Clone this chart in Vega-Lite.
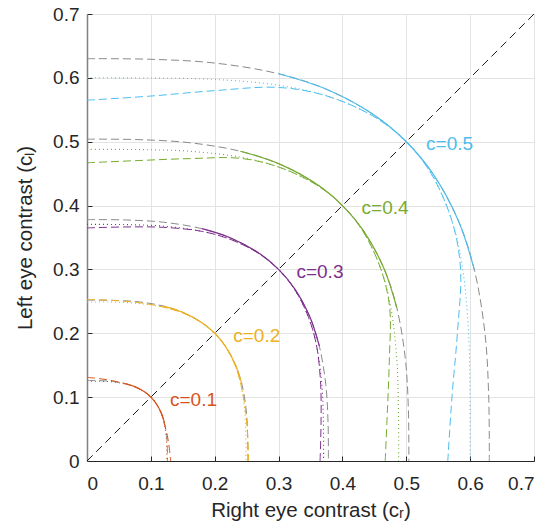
{
  "$schema": "https://vega.github.io/schema/vega-lite/v6.json",
  "width": 447,
  "height": 447,
  "autosize": {"type": "none"},
  "padding": {"left": 87, "top": 14, "right": 24, "bottom": 68},
  "background": "white",
  "config": {
    "view": {"stroke": null},
    "font": "Liberation Sans",
    "axis": {
      "grid": true,
      "gridColor": "#e3e3e3",
      "gridWidth": 1,
      "domainColor": "#262626",
      "tickColor": "#262626",
      "tickSize": -5,
      "labelFontSize": 19,
      "labelColor": "#262626",
      "titleFontSize": 20.5,
      "titleFontWeight": "normal",
      "titleColor": "#262626"
    }
  },
  "datasets": {
    "curves": [
      {"c":"0.5","t":"g","i":0,"x":0,"y":0.63},{"c":"0.5","t":"g","i":1,"x":0.1,"y":0.6291},{"c":"0.5","t":"g","i":2,"x":0.2,"y":0.6232},{"c":"0.5","t":"g","i":3,"x":0.3,"y":0.6064},{"c":"0.5","t":"g","i":4,"x":0.375,"y":0.5821},{"c":"0.5","t":"g","i":5,"x":0.45,"y":0.5416},{"c":"0.5","t":"g","i":6,"x":0.5,"y":0.5},{"c":"0.5","t":"g","i":7,"x":0.5416,"y":0.45},{"c":"0.5","t":"g","i":8,"x":0.5821,"y":0.375},{"c":"0.5","t":"g","i":9,"x":0.6064,"y":0.3},{"c":"0.5","t":"g","i":10,"x":0.6232,"y":0.2},{"c":"0.5","t":"g","i":11,"x":0.6291,"y":0.1},{"c":"0.5","t":"g","i":12,"x":0.63,"y":0},
      {"c":"0.5","t":"o","i":0,"x":0,"y":0.6001},{"c":"0.5","t":"o","i":1,"x":0.1,"y":0.5997},{"c":"0.5","t":"o","i":2,"x":0.2,"y":0.5976},{"c":"0.5","t":"o","i":3,"x":0.3,"y":0.5884},{"c":"0.5","t":"o","i":4,"x":0.375,"y":0.5718},{"c":"0.5","t":"o","i":5,"x":0.45,"y":0.539},{"c":"0.5","t":"o","i":6,"x":0.5,"y":0.5},{"c":"0.5","t":"o","i":7,"x":0.539,"y":0.45},{"c":"0.5","t":"o","i":8,"x":0.5718,"y":0.375},{"c":"0.5","t":"o","i":9,"x":0.5884,"y":0.3},{"c":"0.5","t":"o","i":10,"x":0.5976,"y":0.2},{"c":"0.5","t":"o","i":11,"x":0.5997,"y":0.1},{"c":"0.5","t":"o","i":12,"x":0.6001,"y":0},
      {"c":"0.5","t":"d","i":0,"x":0,"y":0.565},{"c":"0.5","t":"d","i":1,"x":0.1,"y":0.5715},{"c":"0.5","t":"d","i":2,"x":0.2,"y":0.5800},{"c":"0.5","t":"d","i":3,"x":0.3,"y":0.5850},{"c":"0.5","t":"d","i":4,"x":0.375,"y":0.5718},{"c":"0.5","t":"d","i":5,"x":0.45,"y":0.539},{"c":"0.5","t":"d","i":6,"x":0.5,"y":0.5},{"c":"0.5","t":"d","i":7,"x":0.539,"y":0.45},{"c":"0.5","t":"d","i":8,"x":0.5718,"y":0.375},{"c":"0.5","t":"d","i":9,"x":0.5850,"y":0.3},{"c":"0.5","t":"d","i":10,"x":0.5800,"y":0.2},{"c":"0.5","t":"d","i":11,"x":0.5715,"y":0.1},{"c":"0.5","t":"d","i":12,"x":0.565,"y":0},
      {"c":"0.5","t":"s","i":0,"x":0.3,"y":0.6064},{"c":"0.5","t":"s","i":1,"x":0.375,"y":0.5821},{"c":"0.5","t":"s","i":2,"x":0.45,"y":0.5416},{"c":"0.5","t":"s","i":3,"x":0.5,"y":0.5},{"c":"0.5","t":"s","i":4,"x":0.5416,"y":0.45},{"c":"0.5","t":"s","i":5,"x":0.5821,"y":0.375},{"c":"0.5","t":"s","i":6,"x":0.6064,"y":0.3},

      {"c":"0.4","t":"g","i":0,"x":0,"y":0.504},{"c":"0.4","t":"g","i":1,"x":0.08,"y":0.5033},{"c":"0.4","t":"g","i":2,"x":0.16,"y":0.4985},{"c":"0.4","t":"g","i":3,"x":0.24,"y":0.4851},{"c":"0.4","t":"g","i":4,"x":0.3,"y":0.4657},{"c":"0.4","t":"g","i":5,"x":0.36,"y":0.4333},{"c":"0.4","t":"g","i":6,"x":0.4,"y":0.4},{"c":"0.4","t":"g","i":7,"x":0.4333,"y":0.36},{"c":"0.4","t":"g","i":8,"x":0.4657,"y":0.3},{"c":"0.4","t":"g","i":9,"x":0.4851,"y":0.24},{"c":"0.4","t":"g","i":10,"x":0.4985,"y":0.16},{"c":"0.4","t":"g","i":11,"x":0.5033,"y":0.08},{"c":"0.4","t":"g","i":12,"x":0.504,"y":0},
      {"c":"0.4","t":"o","i":0,"x":0,"y":0.488},{"c":"0.4","t":"o","i":1,"x":0.08,"y":0.4877},{"c":"0.4","t":"o","i":2,"x":0.16,"y":0.4851},{"c":"0.4","t":"o","i":3,"x":0.24,"y":0.4758},{"c":"0.4","t":"o","i":4,"x":0.3,"y":0.4604},{"c":"0.4","t":"o","i":5,"x":0.36,"y":0.432},{"c":"0.4","t":"o","i":6,"x":0.4,"y":0.4},{"c":"0.4","t":"o","i":7,"x":0.432,"y":0.36},{"c":"0.4","t":"o","i":8,"x":0.4604,"y":0.3},{"c":"0.4","t":"o","i":9,"x":0.4758,"y":0.24},{"c":"0.4","t":"o","i":10,"x":0.4851,"y":0.16},{"c":"0.4","t":"o","i":11,"x":0.4877,"y":0.08},{"c":"0.4","t":"o","i":12,"x":0.488,"y":0},
      {"c":"0.4","t":"d","i":0,"x":0,"y":0.467},{"c":"0.4","t":"d","i":1,"x":0.08,"y":0.4705},{"c":"0.4","t":"d","i":2,"x":0.16,"y":0.4735},{"c":"0.4","t":"d","i":3,"x":0.24,"y":0.4740},{"c":"0.4","t":"d","i":4,"x":0.3,"y":0.4604},{"c":"0.4","t":"d","i":5,"x":0.36,"y":0.432},{"c":"0.4","t":"d","i":6,"x":0.4,"y":0.4},{"c":"0.4","t":"d","i":7,"x":0.432,"y":0.36},{"c":"0.4","t":"d","i":8,"x":0.4604,"y":0.3},{"c":"0.4","t":"d","i":9,"x":0.4740,"y":0.24},{"c":"0.4","t":"d","i":10,"x":0.4735,"y":0.16},{"c":"0.4","t":"d","i":11,"x":0.4705,"y":0.08},{"c":"0.4","t":"d","i":12,"x":0.467,"y":0},
      {"c":"0.4","t":"s","i":0,"x":0.24,"y":0.4851},{"c":"0.4","t":"s","i":1,"x":0.3,"y":0.4657},{"c":"0.4","t":"s","i":2,"x":0.36,"y":0.4333},{"c":"0.4","t":"s","i":3,"x":0.4,"y":0.4},{"c":"0.4","t":"s","i":4,"x":0.4333,"y":0.36},{"c":"0.4","t":"s","i":5,"x":0.4657,"y":0.3},{"c":"0.4","t":"s","i":6,"x":0.4851,"y":0.24},

      {"c":"0.3","t":"g","i":0,"x":0,"y":0.378},{"c":"0.3","t":"g","i":1,"x":0.06,"y":0.3775},{"c":"0.3","t":"g","i":2,"x":0.12,"y":0.3739},{"c":"0.3","t":"g","i":3,"x":0.18,"y":0.3638},{"c":"0.3","t":"g","i":4,"x":0.225,"y":0.3493},{"c":"0.3","t":"g","i":5,"x":0.27,"y":0.325},{"c":"0.3","t":"g","i":6,"x":0.3,"y":0.3},{"c":"0.3","t":"g","i":7,"x":0.325,"y":0.27},{"c":"0.3","t":"g","i":8,"x":0.3493,"y":0.225},{"c":"0.3","t":"g","i":9,"x":0.3638,"y":0.18},{"c":"0.3","t":"g","i":10,"x":0.3739,"y":0.12},{"c":"0.3","t":"g","i":11,"x":0.3775,"y":0.06},{"c":"0.3","t":"g","i":12,"x":0.378,"y":0},
      {"c":"0.3","t":"o","i":0,"x":0,"y":0.3705},{"c":"0.3","t":"o","i":1,"x":0.06,"y":0.3702},{"c":"0.3","t":"o","i":2,"x":0.12,"y":0.3677},{"c":"0.3","t":"o","i":3,"x":0.18,"y":0.3596},{"c":"0.3","t":"o","i":4,"x":0.225,"y":0.3469},{"c":"0.3","t":"o","i":5,"x":0.27,"y":0.3244},{"c":"0.3","t":"o","i":6,"x":0.3,"y":0.3},{"c":"0.3","t":"o","i":7,"x":0.3244,"y":0.27},{"c":"0.3","t":"o","i":8,"x":0.3469,"y":0.225},{"c":"0.3","t":"o","i":9,"x":0.3596,"y":0.18},{"c":"0.3","t":"o","i":10,"x":0.3677,"y":0.12},{"c":"0.3","t":"o","i":11,"x":0.3702,"y":0.06},{"c":"0.3","t":"o","i":12,"x":0.3705,"y":0},
      {"c":"0.3","t":"d","i":0,"x":0,"y":0.365},{"c":"0.3","t":"d","i":1,"x":0.06,"y":0.3665},{"c":"0.3","t":"d","i":2,"x":0.12,"y":0.3659},{"c":"0.3","t":"d","i":3,"x":0.18,"y":0.3596},{"c":"0.3","t":"d","i":4,"x":0.225,"y":0.3469},{"c":"0.3","t":"d","i":5,"x":0.27,"y":0.3244},{"c":"0.3","t":"d","i":6,"x":0.3,"y":0.3},{"c":"0.3","t":"d","i":7,"x":0.3244,"y":0.27},{"c":"0.3","t":"d","i":8,"x":0.3469,"y":0.225},{"c":"0.3","t":"d","i":9,"x":0.3596,"y":0.18},{"c":"0.3","t":"d","i":10,"x":0.3659,"y":0.12},{"c":"0.3","t":"d","i":11,"x":0.3665,"y":0.06},{"c":"0.3","t":"d","i":12,"x":0.365,"y":0},
      {"c":"0.3","t":"s","i":0,"x":0.18,"y":0.3638},{"c":"0.3","t":"s","i":1,"x":0.225,"y":0.3493},{"c":"0.3","t":"s","i":2,"x":0.27,"y":0.325},{"c":"0.3","t":"s","i":3,"x":0.3,"y":0.3},{"c":"0.3","t":"s","i":4,"x":0.325,"y":0.27},{"c":"0.3","t":"s","i":5,"x":0.3493,"y":0.225},{"c":"0.3","t":"s","i":6,"x":0.3638,"y":0.18},

      {"c":"0.2","t":"g","i":0,"x":0,"y":0.252},{"c":"0.2","t":"g","i":1,"x":0.04,"y":0.2516},{"c":"0.2","t":"g","i":2,"x":0.08,"y":0.2493},{"c":"0.2","t":"g","i":3,"x":0.12,"y":0.2426},{"c":"0.2","t":"g","i":4,"x":0.15,"y":0.2328},{"c":"0.2","t":"g","i":5,"x":0.18,"y":0.2166},{"c":"0.2","t":"g","i":6,"x":0.2,"y":0.2},{"c":"0.2","t":"g","i":7,"x":0.2166,"y":0.18},{"c":"0.2","t":"g","i":8,"x":0.2328,"y":0.15},{"c":"0.2","t":"g","i":9,"x":0.2426,"y":0.12},{"c":"0.2","t":"g","i":10,"x":0.2493,"y":0.08},{"c":"0.2","t":"g","i":11,"x":0.2516,"y":0.04},{"c":"0.2","t":"g","i":12,"x":0.252,"y":0},
      {"c":"0.2","t":"o","i":0,"x":0,"y":0.249},{"c":"0.2","t":"o","i":1,"x":0.04,"y":0.2488},{"c":"0.2","t":"o","i":2,"x":0.08,"y":0.2468},{"c":"0.2","t":"o","i":3,"x":0.12,"y":0.2409},{"c":"0.2","t":"o","i":4,"x":0.15,"y":0.2319},{"c":"0.2","t":"o","i":5,"x":0.18,"y":0.2164},{"c":"0.2","t":"o","i":6,"x":0.2,"y":0.2},{"c":"0.2","t":"o","i":7,"x":0.2164,"y":0.18},{"c":"0.2","t":"o","i":8,"x":0.2319,"y":0.15},{"c":"0.2","t":"o","i":9,"x":0.2409,"y":0.12},{"c":"0.2","t":"o","i":10,"x":0.2468,"y":0.08},{"c":"0.2","t":"o","i":11,"x":0.2488,"y":0.04},{"c":"0.2","t":"o","i":12,"x":0.249,"y":0},
      {"c":"0.2","t":"d","i":0,"x":0,"y":0.253},{"c":"0.2","t":"d","i":1,"x":0.04,"y":0.2515},{"c":"0.2","t":"d","i":2,"x":0.08,"y":0.2481},{"c":"0.2","t":"d","i":3,"x":0.12,"y":0.2409},{"c":"0.2","t":"d","i":4,"x":0.15,"y":0.2319},{"c":"0.2","t":"d","i":5,"x":0.18,"y":0.2164},{"c":"0.2","t":"d","i":6,"x":0.2,"y":0.2},{"c":"0.2","t":"d","i":7,"x":0.2164,"y":0.18},{"c":"0.2","t":"d","i":8,"x":0.2319,"y":0.15},{"c":"0.2","t":"d","i":9,"x":0.2409,"y":0.12},{"c":"0.2","t":"d","i":10,"x":0.2481,"y":0.08},{"c":"0.2","t":"d","i":11,"x":0.2515,"y":0.04},{"c":"0.2","t":"d","i":12,"x":0.253,"y":0},
      {"c":"0.2","t":"s","i":0,"x":0.12,"y":0.2426},{"c":"0.2","t":"s","i":1,"x":0.15,"y":0.2328},{"c":"0.2","t":"s","i":2,"x":0.18,"y":0.2166},{"c":"0.2","t":"s","i":3,"x":0.2,"y":0.2},{"c":"0.2","t":"s","i":4,"x":0.2166,"y":0.18},{"c":"0.2","t":"s","i":5,"x":0.2328,"y":0.15},{"c":"0.2","t":"s","i":6,"x":0.2426,"y":0.12},

      {"c":"0.1","t":"g","i":0,"x":0,"y":0.126},{"c":"0.1","t":"g","i":1,"x":0.02,"y":0.1258},{"c":"0.1","t":"g","i":2,"x":0.04,"y":0.1246},{"c":"0.1","t":"g","i":3,"x":0.06,"y":0.1213},{"c":"0.1","t":"g","i":4,"x":0.075,"y":0.1164},{"c":"0.1","t":"g","i":5,"x":0.09,"y":0.1083},{"c":"0.1","t":"g","i":6,"x":0.1,"y":0.1},{"c":"0.1","t":"g","i":7,"x":0.1083,"y":0.09},{"c":"0.1","t":"g","i":8,"x":0.1164,"y":0.075},{"c":"0.1","t":"g","i":9,"x":0.1213,"y":0.06},{"c":"0.1","t":"g","i":10,"x":0.1246,"y":0.04},{"c":"0.1","t":"g","i":11,"x":0.1258,"y":0.02},{"c":"0.1","t":"g","i":12,"x":0.126,"y":0},
      {"c":"0.1","t":"o","i":0,"x":0,"y":0.125},{"c":"0.1","t":"o","i":1,"x":0.02,"y":0.1249},{"c":"0.1","t":"o","i":2,"x":0.04,"y":0.1238},{"c":"0.1","t":"o","i":3,"x":0.06,"y":0.1207},{"c":"0.1","t":"o","i":4,"x":0.075,"y":0.1161},{"c":"0.1","t":"o","i":5,"x":0.09,"y":0.1082},{"c":"0.1","t":"o","i":6,"x":0.1,"y":0.1},{"c":"0.1","t":"o","i":7,"x":0.1082,"y":0.09},{"c":"0.1","t":"o","i":8,"x":0.1161,"y":0.075},{"c":"0.1","t":"o","i":9,"x":0.1207,"y":0.06},{"c":"0.1","t":"o","i":10,"x":0.1238,"y":0.04},{"c":"0.1","t":"o","i":11,"x":0.1249,"y":0.02},{"c":"0.1","t":"o","i":12,"x":0.125,"y":0},
      {"c":"0.1","t":"d","i":0,"x":0,"y":0.131},{"c":"0.1","t":"d","i":1,"x":0.02,"y":0.1289},{"c":"0.1","t":"d","i":2,"x":0.04,"y":0.1258},{"c":"0.1","t":"d","i":3,"x":0.06,"y":0.1207},{"c":"0.1","t":"d","i":4,"x":0.075,"y":0.1161},{"c":"0.1","t":"d","i":5,"x":0.09,"y":0.1082},{"c":"0.1","t":"d","i":6,"x":0.1,"y":0.1},{"c":"0.1","t":"d","i":7,"x":0.1082,"y":0.09},{"c":"0.1","t":"d","i":8,"x":0.1161,"y":0.075},{"c":"0.1","t":"d","i":9,"x":0.1207,"y":0.06},{"c":"0.1","t":"d","i":10,"x":0.1258,"y":0.04},{"c":"0.1","t":"d","i":11,"x":0.1289,"y":0.02},{"c":"0.1","t":"d","i":12,"x":0.131,"y":0},
      {"c":"0.1","t":"s","i":0,"x":0.06,"y":0.1213},{"c":"0.1","t":"s","i":1,"x":0.075,"y":0.1164},{"c":"0.1","t":"s","i":2,"x":0.09,"y":0.1083},{"c":"0.1","t":"s","i":3,"x":0.1,"y":0.1},{"c":"0.1","t":"s","i":4,"x":0.1083,"y":0.09},{"c":"0.1","t":"s","i":5,"x":0.1164,"y":0.075},{"c":"0.1","t":"s","i":6,"x":0.1213,"y":0.06}
    ],
    "diag": [{"x": 0, "y": 0}, {"x": 0.7, "y": 0.7}],
    "labels": [
      {"c": "0.1", "x": 0.130, "y": 0.0955, "text": "c=0.1"},
      {"c": "0.2", "x": 0.229, "y": 0.196, "text": "c=0.2"},
      {"c": "0.3", "x": 0.328, "y": 0.296, "text": "c=0.3"},
      {"c": "0.4", "x": 0.430, "y": 0.396, "text": "c=0.4"},
      {"c": "0.5", "x": 0.531, "y": 0.496, "text": "c=0.5"}
    ]
  },
  "encoding": {
    "x": {
      "field": "x", "type": "quantitative",
      "scale": {"domain": [0, 0.7], "nice": false, "zero": false},
      "axis": {"title": "Right eye contrast (cᵣ)", "values": [0, 0.1, 0.2, 0.3, 0.4, 0.5, 0.6, 0.7], "format": "~g", "labelPadding": 18, "titleY": 39, "titleBaseline": "top"}
    },
    "y": {
      "field": "y", "type": "quantitative",
      "scale": {"domain": [0, 0.7], "nice": false, "zero": false},
      "axis": {"title": "Left eye contrast (cₗ)", "values": [0, 0.1, 0.2, 0.3, 0.4, 0.5, 0.6, 0.7], "format": "~g", "labelPadding": 13, "titleX": -52, "titleY": 223.5, "titleAngle": -90, "titleBaseline": "bottom", "domainColor": "#808080", "domainWidth": 1.5}
    }
  },
  "layer": [
    {
      "data": {"name": "diag"},
      "mark": {"type": "line", "color": "#1a1a1a", "strokeDash": [8, 5], "strokeWidth": 1}
    },
    {
      "data": {"name": "curves"},
      "transform": [{"filter": "datum.t === 'g'"}],
      "mark": {"type": "line", "color": "#8a8a8a", "strokeDash": [8, 4], "strokeWidth": 1, "interpolate": "catmull-rom"},
      "encoding": {"detail": {"field": "c"}, "order": {"field": "i", "type": "quantitative"}}
    },
    {
      "data": {"name": "curves"},
      "transform": [{"filter": "datum.t === 'o'"}],
      "mark": {"type": "line", "strokeDash": [1, 3], "strokeWidth": 1.1, "interpolate": "catmull-rom"},
      "encoding": {
        "color": {"field": "c", "type": "nominal", "scale": {"domain": ["0.1", "0.2", "0.3", "0.4", "0.5"], "range": ["#D95319", "#EDB120", "#7E2F8E", "#77AC30", "#4DBEEE"]}, "legend": null},
        "order": {"field": "i", "type": "quantitative"}
      }
    },
    {
      "data": {"name": "curves"},
      "transform": [{"filter": "datum.t === 'd'"}],
      "mark": {"type": "line", "strokeDash": [8, 4], "strokeWidth": 1, "interpolate": "catmull-rom"},
      "encoding": {
        "color": {"field": "c", "type": "nominal", "legend": null},
        "order": {"field": "i", "type": "quantitative"}
      }
    },
    {
      "data": {"name": "curves"},
      "transform": [{"filter": "datum.t === 's'"}],
      "mark": {"type": "line", "strokeWidth": 1.2, "interpolate": "catmull-rom"},
      "encoding": {
        "color": {"field": "c", "type": "nominal", "legend": null},
        "order": {"field": "i", "type": "quantitative"}
      }
    },
    {
      "data": {"name": "labels"},
      "mark": {"type": "text", "align": "left", "baseline": "middle", "fontSize": 19},
      "encoding": {
        "text": {"field": "text"},
        "color": {"field": "c", "type": "nominal", "legend": null}
      }
    }
  ]
}
